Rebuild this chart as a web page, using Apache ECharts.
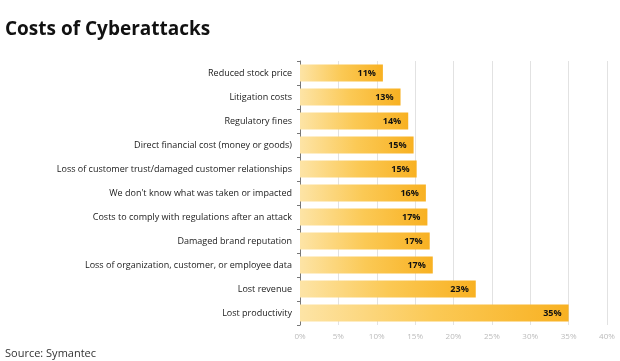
<!DOCTYPE html>
<html><head><meta charset="utf-8">
<script src="https://cdn.jsdelivr.net/npm/echarts@6/dist/echarts.min.js"></script>
<style>html,body{margin:0;padding:0;background:#fff}#c{width:620px;height:361px}</style>
</head><body><div id="c"></div>
<script>
var categories = ["Reduced stock price","Litigation costs","Regulatory fines","Direct financial cost (money or goods)","Loss of customer trust/damaged customer relationships","We don't know what was taken or impacted","Costs to comply with regulations after an attack","Damaged brand reputation","Loss of organization, customer, or employee data","Lost revenue","Lost productivity"];
var values = [10.8, 13.1, 14.1, 14.8, 15.2, 16.4, 16.6, 16.9, 17.3, 22.9, 35];
var valueLabels = ["11%","13%","14%","15%","15%","16%","17%","17%","17%","23%","35%"];
var xTicks = [0,5,10,15,20,25,30,35,40];

var chart = echarts.init(document.getElementById('c'), null, {renderer:'canvas'});
chart.setOption({
  animation:false,
  backgroundColor:'#fff',
  title:[{text:'Costs of Cyberattacks',left:0,top:15,textStyle:{fontFamily:'Open Sans',fontWeight:'bold',fontSize:19,color:'#111'}},
         {text:'Source: Symantec',left:0,top:343,textStyle:{fontFamily:'Open Sans',fontWeight:'normal',fontSize:11,color:'#333'}}],
  grid:{left:300,right:13,top:61,bottom:36,containLabel:false},
  xAxis:{type:'value',min:0,max:40,interval:5,
    axisLine:{show:false},axisTick:{show:false},
    splitLine:{show:true,lineStyle:{color:'#e2e2e2',width:1}},
    axisLabel:{formatter:function(v){return v+'%';},color:'#bbb',fontSize:8,fontFamily:'Open Sans',margin:8}},
  yAxis:{type:'category',data:categories,inverse:true,
    axisLine:{show:true,lineStyle:{color:'#777'}},
    axisTick:{show:true,length:3,lineStyle:{color:'#777'}},
    axisLabel:{color:'#1a1a1a',fontSize:9,fontFamily:'Open Sans',margin:8}},
  series:[{type:'bar',data:values,barWidth:17,
    itemStyle:{color:new echarts.graphic.LinearGradient(0,0,1,0,[{offset:0,color:'#fde4a6'},{offset:0.5,color:'#fbc955'},{offset:1,color:'#f8b122'}],false)},
    label:{show:true,position:'insideRight',offset:[-2,0],color:'#111',fontWeight:'bold',fontSize:9,fontFamily:'Open Sans',
      formatter:function(p){return valueLabels[p.dataIndex];}}}]
});
</script></body></html>
